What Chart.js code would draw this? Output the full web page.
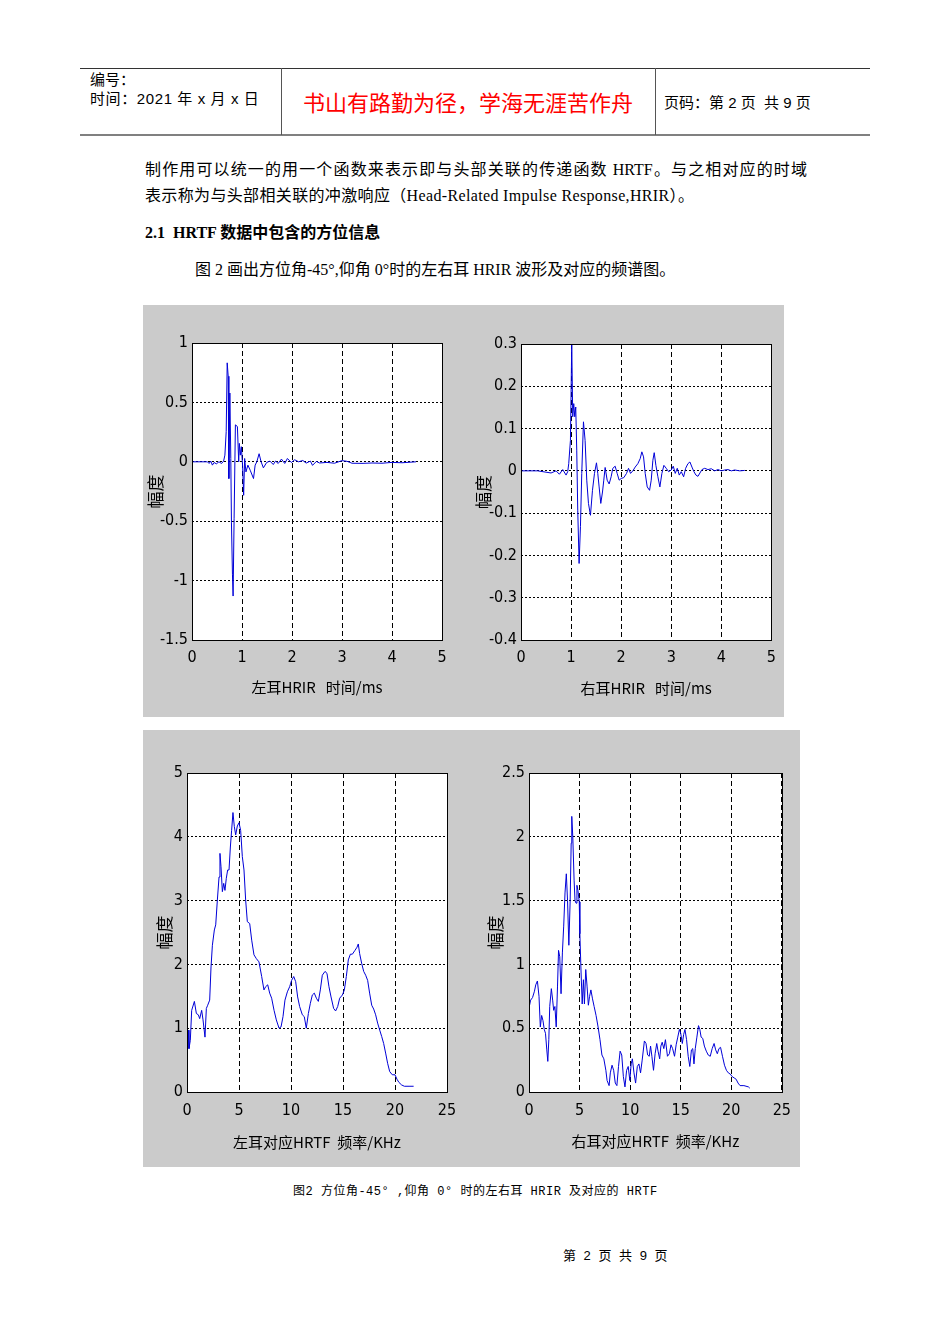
<!DOCTYPE html>
<html>
<head>
<meta charset="utf-8">
<script src="https://cdn.jsdelivr.net/npm/chart.js@4.4.1/dist/chart.umd.min.js"></script>
<style>
body { margin: 0; background: #fff; }
#page { position: relative; width: 950px; height: 1344px; overflow: hidden; color: #000;
        font-family: "Liberation Serif", "Noto Sans CJK SC", serif; }
.abs { position: absolute; white-space: nowrap; }
.sans { font-family: "Liberation Sans", "Noto Sans CJK SC", sans-serif; }
.panel { position: absolute; background: #cbcbcb; }
canvas { position: absolute; }
</style>
</head>
<body>
<div id="page">
  <!-- header table -->
  <div class="abs" style="left:80px;top:68px;width:790px;border-top:1px solid #333;"></div>
  <div class="abs" style="left:80px;top:134px;width:790px;border-top:2px solid #808080;"></div>
  <div class="abs" style="left:281px;top:68px;height:67px;border-left:1px solid #555;"></div>
  <div class="abs" style="left:655px;top:68px;height:67px;border-left:1px solid #555;"></div>
  <div class="abs sans" style="left:90px;top:70px;font-size:15px;line-height:20px;">编号：</div>
  <div class="abs sans" style="left:90px;top:89px;font-size:15px;line-height:20px;letter-spacing:0.6px;">时间：2021 年 x 月 x 日</div>
  <div class="abs sans" style="left:281px;width:374px;top:91px;font-size:22px;line-height:26px;text-align:center;color:#f00;">书山有路勤为径，学海无涯苦作舟</div>
  <div class="abs sans" style="left:664px;top:93px;font-size:15px;line-height:20px;">页码：第 2 页&nbsp; 共 9 页</div>

  <!-- body text -->
  <div class="abs" style="left:145px;top:160px;width:662px;font-size:16px;line-height:20px;text-align:justify;text-align-last:justify;">制作用可以统一的用一个函数来表示即与头部关联的传递函数 HRTF。与之相对应的时域</div>
  <div class="abs" style="left:145px;top:186px;font-size:16px;line-height:20px;letter-spacing:0.35px;">表示称为与头部相关联的冲激响应（Head-Related Impulse Response,HRIR）。</div>
  <div class="abs" style="left:145px;top:223px;font-size:16px;line-height:20px;font-weight:bold;">2.1&nbsp; HRTF 数据中包含的方位信息</div>
  <div class="abs" style="left:195px;top:260px;font-size:16px;line-height:20px;">图 2 画出方位角-45°,仰角 0°时的左右耳 HRIR 波形及对应的频谱图。</div>

  <!-- figure panels -->
  <div class="panel" style="left:143px;top:305px;width:641px;height:412px;"></div>
  <div class="panel" style="left:143px;top:730px;width:657px;height:437px;"></div>
  <canvas id="c1" width="320" height="412" style="left:143px;top:305px;"></canvas>
  <canvas id="c2" width="321" height="412" style="left:463px;top:305px;"></canvas>
  <canvas id="c3" width="327" height="437" style="left:143px;top:730px;"></canvas>
  <canvas id="c4" width="330" height="437" style="left:470px;top:730px;"></canvas>

  <div class="abs" style="left:293px;top:1184px;font-size:12px;line-height:16px;letter-spacing:0.5px;font-family:'Liberation Mono','Noto Sans CJK SC',monospace;">图2 方位角-45° ,仰角 0° 时的左右耳 HRIR 及对应的 HRTF</div>
  <div class="abs sans" style="left:563px;top:1248px;font-size:13px;line-height:16px;letter-spacing:2px;">第 2 页 共 9 页</div>
</div>

<script>
// left ear HRIR, azimuth -45, elevation 0
var timeLeft = [0, 0.309, 0.342, 0.375, 0.408, 0.441, 0.487, 0.539, 0.592, 0.632, 0.658, 0.684, 0.704, 0.724, 0.737, 0.757, 0.776, 0.789, 0.809, 0.822, 0.842, 0.868, 0.908, 0.934, 0.947, 0.967, 0.987, 1.013, 1.033, 1.053, 1.079, 1.118, 1.164, 1.230, 1.263, 1.296, 1.342, 1.382, 1.428, 1.493, 1.559, 1.625, 1.671, 1.724, 1.789, 1.855, 1.908, 1.987, 2.053, 2.132, 2.217, 2.283, 2.368, 2.41, 2.487, 2.55, 2.7, 2.85, 3.0, 3.1, 3.2, 3.4, 3.6, 3.8, 4.0, 4.2, 4.48];
var ampLeft = [0, 0, -0.014, 0.006, -0.028, -0.006, -0.017, 0, -0.014, 0.006, 0.056, 0.254, 0.833, 0.72, -0.141, 0.579, 0.028, -0.508, -0.946, -1.13, -0.48, 0.311, 0.297, 0, 0.155, 0.056, 0.127, -0.042, -0.282, 0.028, -0.085, -0.028, -0.071, -0.141, -0.028, 0, 0.068, 0, -0.051, -0.006, 0.006, -0.023, 0.006, -0.014, 0.023, -0.014, 0.028, -0.006, 0.017, 0, 0.011, -0.011, 0.006, -0.03, 0.003, -0.01, -0.005, -0.012, 0.01, 0.004, -0.012, -0.013, -0.01, -0.012, -0.005, -0.008, 0];

// right ear HRIR
var timeRight = [0, 0.333, 0.6, 0.7, 0.767, 0.833, 0.9, 0.933, 0.953, 0.987, 1.013, 1.033, 1.053, 1.073, 1.093, 1.113, 1.133, 1.16, 1.187, 1.213, 1.247, 1.28, 1.313, 1.347, 1.387, 1.427, 1.467, 1.507, 1.533, 1.56, 1.593, 1.627, 1.653, 1.68, 1.72, 1.76, 1.8, 1.833, 1.88, 1.92, 1.96, 2.0, 2.053, 2.107, 2.147, 2.187, 2.233, 2.28, 2.333, 2.38, 2.413, 2.447, 2.48, 2.52, 2.567, 2.6, 2.633, 2.66, 2.693, 2.733, 2.773, 2.813, 2.853, 2.9, 2.947, 3.0, 3.04, 3.08, 3.12, 3.16, 3.2, 3.247, 3.287, 3.333, 3.373, 3.413, 3.453, 3.493, 3.533, 3.573, 3.613, 3.667, 3.733, 3.8, 3.867, 3.933, 4.0, 4.067, 4.133, 4.2, 4.267, 4.367, 4.467];
var ampRight = [0, 0, -0.005, 0, -0.008, 0.003, -0.01, -0.002, 0.017, 0.072, 0.30, 0.128, 0.159, 0.128, 0.151, 0.049, -0.093, -0.219, -0.132, -0.006, 0.116, 0.072, -0.022, -0.077, -0.105, -0.046, -0.006, 0.019, -0.006, -0.038, -0.077, -0.05, -0.022, 0.008, -0.022, -0.031, -0.014, 0.006, 0.011, -0.006, -0.022, -0.018, -0.016, -0.006, 0.006, -0.006, 0, 0.009, 0.017, 0.029, 0.045, 0.033, -0.006, -0.038, -0.046, -0.022, 0.025, 0.043, 0.013, -0.014, -0.038, -0.006, 0.013, 0.006, -0.002, 0.002, 0.011, -0.006, 0.006, -0.01, -0.002, -0.014, 0.006, 0.017, 0.021, 0.009, -0.002, -0.01, -0.013, -0.005, 0.003, 0.006, 0.003, 0.005, 0, 0.003, 0, 0.002, 0.003, 0, 0.002, 0, 0.001];

// left ear HRTF magnitude (kHz)
var freqLeft = [0, 0.13, 0.19, 0.32, 0.45, 0.71, 0.90, 1.09, 1.22, 1.41, 1.54, 1.73, 1.86, 1.99, 2.18, 2.31, 2.44, 2.63, 2.76, 2.92, 3.08, 3.17, 3.27, 3.40, 3.53, 3.65, 3.78, 3.91, 4.04, 4.17, 4.29, 4.42, 4.55, 4.68, 4.84, 5.00, 5.16, 5.32, 5.48, 5.64, 5.80, 6.03, 6.22, 6.44, 6.67, 6.92, 7.18, 7.40, 7.56, 7.76, 7.95, 8.14, 8.37, 8.59, 8.85, 9.04, 9.23, 9.42, 9.65, 9.87, 10.06, 10.26, 10.45, 10.64, 10.83, 11.09, 11.28, 11.47, 11.67, 11.86, 12.05, 12.24, 12.44, 12.63, 12.82, 13.01, 13.27, 13.46, 13.65, 13.85, 14.10, 14.29, 14.49, 14.68, 14.94, 15.13, 15.32, 15.51, 15.71, 15.90, 16.15, 16.35, 16.47, 16.60, 16.79, 16.99, 17.18, 17.37, 17.56, 17.76, 17.95, 18.14, 18.33, 18.53, 18.72, 18.91, 19.10, 19.29, 19.49, 19.74, 20.00, 20.19, 20.38, 20.64, 20.90, 21.35, 21.79];
var magLeft = [0.9, 0.97, 0.68, 0.81, 1.28, 1.42, 1.23, 1.21, 1.15, 1.28, 1.13, 0.86, 1.31, 1.36, 1.44, 1.96, 2.30, 2.54, 2.62, 3.01, 3.37, 3.74, 3.53, 3.14, 3.27, 3.16, 3.35, 3.48, 3.48, 3.84, 4.10, 4.38, 4.16, 4.03, 4.17, 4.22, 4.10, 3.69, 3.48, 3.01, 2.67, 2.64, 2.38, 2.15, 2.09, 2.04, 1.81, 1.60, 1.65, 1.68, 1.55, 1.47, 1.28, 1.13, 1.00, 1.02, 1.18, 1.44, 1.57, 1.65, 1.75, 1.81, 1.73, 1.49, 1.34, 1.21, 1.18, 1.00, 1.23, 1.39, 1.52, 1.55, 1.47, 1.42, 1.60, 1.83, 1.89, 1.86, 1.65, 1.49, 1.31, 1.27, 1.34, 1.47, 1.52, 1.60, 1.81, 2.07, 2.16, 2.16, 2.22, 2.27, 2.32, 2.17, 2.02, 1.89, 1.83, 1.75, 1.55, 1.36, 1.30, 1.21, 1.08, 0.97, 0.87, 0.76, 0.61, 0.45, 0.32, 0.27, 0.27, 0.20, 0.15, 0.11, 0.09, 0.09, 0.09];

// right ear HRTF magnitude
var freqRight = [0.03, 0.16, 0.35, 0.54, 0.67, 0.83, 0.99, 1.12, 1.25, 1.38, 1.51, 1.63, 1.76, 1.86, 1.96, 2.05, 2.21, 2.34, 2.44, 2.56, 2.69, 2.82, 2.92, 3.04, 3.17, 3.30, 3.43, 3.56, 3.69, 3.81, 3.94, 4.07, 4.17, 4.23, 4.33, 4.46, 4.55, 4.65, 4.74, 4.84, 4.97, 5.03, 5.13, 5.26, 5.38, 5.48, 5.61, 5.74, 5.87, 5.99, 6.12, 6.28, 6.44, 6.63, 6.83, 7.02, 7.21, 7.40, 7.60, 7.72, 7.92, 8.04, 8.21, 8.37, 8.53, 8.69, 8.85, 9.01, 9.17, 9.33, 9.49, 9.65, 9.81, 9.97, 10.10, 10.22, 10.38, 10.54, 10.71, 10.87, 11.03, 11.19, 11.41, 11.57, 11.73, 11.89, 12.02, 12.15, 12.31, 12.47, 12.63, 12.76, 12.92, 13.04, 13.17, 13.33, 13.49, 13.69, 13.88, 14.04, 14.20, 14.39, 14.55, 14.71, 14.87, 15.00, 15.16, 15.29, 15.42, 15.58, 15.74, 15.90, 16.06, 16.19, 16.31, 16.44, 16.60, 16.76, 16.89, 17.02, 17.18, 17.34, 17.53, 17.72, 17.92, 18.11, 18.30, 18.46, 18.62, 18.78, 18.94, 19.13, 19.33, 19.52, 19.71, 19.90, 20.10, 20.29, 20.48, 20.67, 20.87, 21.25, 21.70, 21.83];
var magRight = [0.67, 0.72, 0.74, 0.79, 0.84, 0.87, 0.75, 0.51, 0.60, 0.56, 0.49, 0.46, 0.33, 0.24, 0.41, 0.67, 0.81, 0.72, 0.64, 0.67, 0.51, 0.83, 1.11, 1.06, 0.77, 1.09, 1.30, 1.56, 1.71, 1.50, 1.15, 1.50, 1.95, 2.16, 2.00, 1.66, 1.50, 1.48, 1.62, 1.58, 1.49, 1.24, 0.98, 0.69, 0.88, 0.69, 0.96, 0.83, 0.68, 0.75, 0.80, 0.73, 0.67, 0.60, 0.51, 0.41, 0.29, 0.26, 0.17, 0.09, 0.05, 0.15, 0.21, 0.17, 0.07, 0.05, 0.20, 0.32, 0.29, 0.12, 0.04, 0.17, 0.20, 0.09, 0.22, 0.26, 0.15, 0.07, 0.20, 0.22, 0.15, 0.25, 0.40, 0.38, 0.29, 0.28, 0.36, 0.28, 0.17, 0.30, 0.38, 0.32, 0.26, 0.36, 0.39, 0.34, 0.41, 0.28, 0.30, 0.37, 0.34, 0.28, 0.37, 0.43, 0.49, 0.46, 0.38, 0.45, 0.49, 0.41, 0.28, 0.20, 0.33, 0.34, 0.22, 0.34, 0.43, 0.52, 0.49, 0.43, 0.42, 0.36, 0.32, 0.29, 0.28, 0.34, 0.38, 0.33, 0.30, 0.34, 0.35, 0.28, 0.21, 0.17, 0.15, 0.14, 0.12, 0.11, 0.10, 0.07, 0.05, 0.05, 0.04, 0.03];

// tick labels
var timeTicks = [0, 1, 2, 3, 4, 5];
var ampLeftTicks = [-1.5, -1, -0.5, 0, 0.5, 1];
var ampRightTicks = [-0.4, -0.3, -0.2, -0.1, 0, 0.1, 0.2, 0.3];
var freqTicks = [0, 5, 10, 15, 20, 25];
var magLeftTicks = [0, 1, 2, 3, 4, 5];
var magRightTicks = [0, 0.5, 1, 1.5, 2, 2.5];

var tickFont = { family: "'Liberation Sans Narrow', 'DejaVu Sans Condensed', 'Liberation Sans', sans-serif", size: 16 };
var xTitleFont = { family: "'Liberation Sans Narrow', 'Noto Sans CJK SC', sans-serif", size: 15 };
var yTitleFont = { family: "'Noto Sans CJK SC', sans-serif", size: 17 };

// white axes area + black box round it, like matlab "box on"
var boxPlugin = {
    id: 'box',
    beforeDraw: function(chart) {
        var a = chart.chartArea, c = chart.ctx;
        c.save();
        c.fillStyle = '#fff';
        c.fillRect(a.left, a.top, a.right - a.left, a.bottom - a.top);
        c.restore();
    },
    afterDraw: function(chart) {
        var a = chart.chartArea, c = chart.ctx;
        c.save();
        c.strokeStyle = '#000';
        c.lineWidth = 1;
        c.strokeRect(Math.round(a.left) + 0.5, Math.round(a.top) + 0.5,
                     Math.round(a.right - a.left), Math.round(a.bottom - a.top));
        c.restore();
    }
};

function makePlot(id, xs, ys, o) {
    var pts = xs.map(function(x, i) { return { x: x, y: ys[i] }; });
    return new Chart(document.getElementById(id), {
        type: 'line',
        data: {
            datasets: [{
                data: pts,
                borderColor: '#0000d8',
                borderWidth: 1,
                pointRadius: 0,
                tension: 0,
                fill: false
            }]
        },
        options: {
            responsive: false,
            animation: false,
            devicePixelRatio: 1,
            layout: { padding: o.pad },
            plugins: { legend: { display: false }, tooltip: { enabled: false } },
            scales: {
                x: {
                    type: 'linear',
                    min: o.xTicks[0],
                    max: o.xTicks[o.xTicks.length - 1],
                    afterBuildTicks: function(s) { s.ticks = o.xTicks.map(function(v) { return { value: v }; }); },
                    afterFit: function(s) { s.height = o.xH; },
                    grid: { color: '#000', lineWidth: 1, drawTicks: false },
                    border: { display: false, dash: [5, 3] },
                    ticks: { padding: o.xPad, color: '#000', font: tickFont, maxRotation: 0, autoSkip: false,
                             callback: function(v) { return String(v); } },
                    title: { display: true, text: o.xTitle, color: '#000', font: xTitleFont,
                             padding: { top: 0, bottom: o.xTitlePad } }
                },
                y: {
                    min: o.yTicks[0],
                    max: o.yTicks[o.yTicks.length - 1],
                    afterBuildTicks: function(s) { s.ticks = o.yTicks.map(function(v) { return { value: v }; }); },
                    afterFit: function(s) { s.width = o.yW; },
                    grid: { color: '#000', lineWidth: 1, drawTicks: false },
                    border: { display: false, dash: [2, 2] },
                    ticks: { padding: 4, color: '#000', font: tickFont, autoSkip: false,
                             callback: function(v) { return String(v); } },
                    title: { display: true, text: '幅度', color: '#000', font: yTitleFont,
                             padding: { top: 0, bottom: 0 } }
                }
            }
        },
        plugins: [boxPlugin]
    });
}

makePlot('c1', timeLeft, ampLeft, {
    xTicks: timeTicks, yTicks: ampLeftTicks,
    pad: { left: 2, right: 21, top: 38, bottom: 0 }, yW: 47, xH: 77, xPad: 8, xTitlePad: 21,
    xTitle: '左耳HRIR   时间/ms'
});
makePlot('c2', timeRight, ampRight, {
    xTicks: timeTicks, yTicks: ampRightTicks,
    pad: { left: 10, right: 12, top: 39, bottom: 0 }, yW: 48, xH: 77, xPad: 8, xTitlePad: 20,
    xTitle: '右耳HRIR   时间/ms'
});
makePlot('c3', freqLeft, magLeft, {
    xTicks: freqTicks, yTicks: magLeftTicks,
    pad: { left: 11, right: 23, top: 43, bottom: 0 }, yW: 33, xH: 75, xPad: 9, xTitlePad: 16,
    xTitle: '左耳对应HRTF  频率/KHz'
});
makePlot('c4', freqRight, magRight, {
    xTicks: freqTicks, yTicks: magRightTicks,
    pad: { left: 15, right: 12, top: 43, bottom: 0 }, yW: 44, xH: 75, xPad: 9, xTitlePad: 17,
    xTitle: '右耳对应HRTF  频率/KHz'
});
</script>
</body>
</html>
